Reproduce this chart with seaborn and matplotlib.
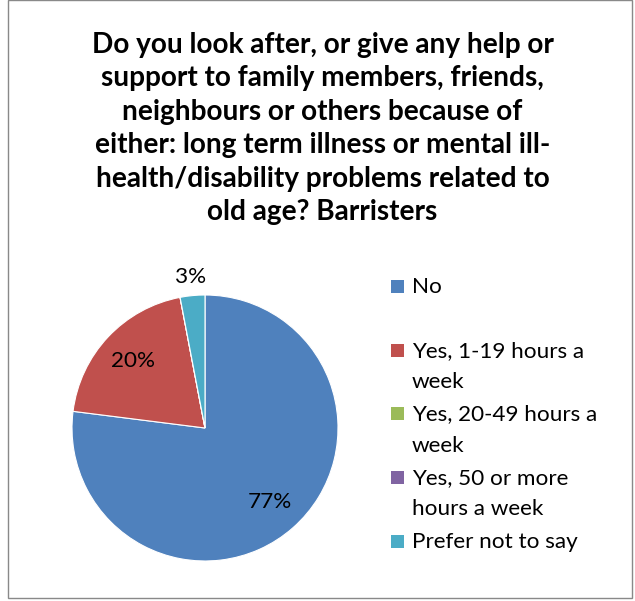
import matplotlib
matplotlib.use("Agg")
import matplotlib.pyplot as plt
from matplotlib.patches import Rectangle
from matplotlib.transforms import Affine2D
import numpy as np
import seaborn as sns

# ---- data ----
categories = ["No", "Yes, 1-19 hours a\nweek", "Yes, 20-49 hours a\nweek",
              "Yes, 50 or more\nhours a week", "Prefer not to say"]
values = [77, 20, 0, 0, 3]
colors = ["#4F81BD", "#C0504D", "#9BBB59", "#8064A2", "#4BACC6"]
title_lines = ["Do you look after, or give any help or",
               "support to family members, friends,",
               "neighbours or others because of",
               "either: long term illness or mental ill-",
               "health/disability problems related to",
               "old age? Barristers"]

sns.set_theme(style="white")
plt.rcParams["font.family"] = ["Lato", "DejaVu Sans"]

W, H = 635, 601
fig = plt.figure(figsize=(W / 100, H / 100), dpi=100)
fig.patch.set_facecolor("white")
px = Affine2D().scale(1.0 / W, 1.0 / H) + fig.transFigure  # pixel (from bottom)

def fy(y):  # convert top-based pixel y to bottom-based
    return H - y

# border
fig.add_artist(Rectangle((8, fy(598)), 624, 598, transform=px, fill=False,
                         edgecolor="#898989", linewidth=1.0))

renderer = fig.canvas.get_renderer()

def fit_size(text, target, **kw):
    p = fig.text(0, 0, text, fontsize=10, **kw)
    w = p.get_window_extent(renderer).width
    p.remove()
    return 10 * target / w

# title
tsize = fit_size(title_lines[1], 444, fontweight="bold")
base0 = 53
for i, line in enumerate(title_lines):
    fig.text(322.5, fy(base0 + i * 33.4), line, transform=px, ha="center",
             va="baseline", fontsize=tsize, fontweight="bold", color="black")

# legend font size
lsize = fit_size("Yes, 20-49 hours a", 185)

# pie
cx, cy, r = 205, 428, 133
ax = fig.add_axes([(cx - r) / W, (fy(cy) - r) / H, 2 * r / W, 2 * r / H])
wedges, texts, autotexts = ax.pie(
    values, colors=colors, startangle=90, counterclock=False,
    autopct=lambda p: f"{p:.0f}%" if p > 0.5 else "", pctdistance=0.74,
    wedgeprops=dict(edgecolor="white", linewidth=0.8),
    textprops=dict(fontsize=lsize, color="black"))
ax.set_xlim(-1, 1)
ax.set_ylim(-1, 1)
ax.set_aspect("equal")
ax.axis("off")
# small slice label outside
for w, t, v in zip(wedges, autotexts, values):
    if 0 < v < 5:
        ang = np.deg2rad((w.theta1 + w.theta2) / 2)
        t.set_position((1.14 * np.cos(ang), 1.14 * np.sin(ang)))

# legend (manual, Excel-like even spacing)
first_lines = [286, 350, 413.5, 477, 541]
for lab, col, yc in zip(categories, colors, first_lines):
    fig.add_artist(Rectangle((391, fy(yc) - 6.5), 13, 13, transform=px,
                             facecolor=col, edgecolor="none"))
    for j, ln in enumerate(lab.split("\n")):
        fig.text(412, fy(yc + 7 + j * 31), ln, transform=px, ha="left",
                 va="baseline", fontsize=lsize, color="black")

fig.savefig("out.png", dpi=100)
